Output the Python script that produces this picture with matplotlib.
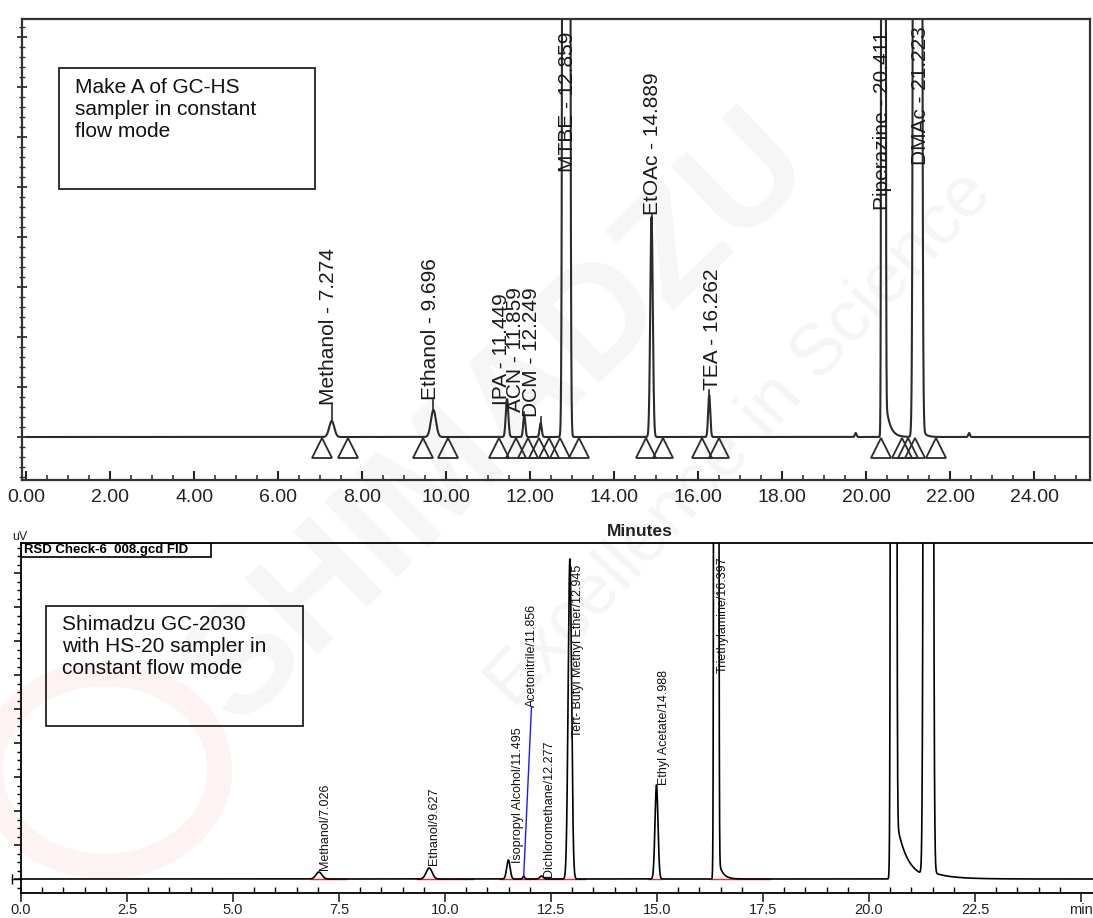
import numpy as np
import matplotlib
matplotlib.use("Agg")
import matplotlib.pyplot as plt
from matplotlib.ticker import MultipleLocator, FixedLocator
from matplotlib.patches import Rectangle, Circle

plt.rcParams['font.family'] = ['Liberation Sans', 'DejaVu Sans']

# ---------------- data: top chromatogram (Make A GC-HS) ----------------
top_names = ["Methanol", "Ethanol", "IPA", "ACN", "DCM", "MTBE", "EtOAc", "TEA", "Piperazine", "DMAc"]
top_rt = [7.274, 9.696, 11.449, 11.859, 12.249, 12.859, 14.889, 16.262, 20.411, 21.223]
top_height = [16, 27, 38, 22, 14, 30000, 220, 42, 30000, 30000]
top_sigma = [0.06, 0.06, 0.03, 0.025, 0.025, 0.035, 0.03, 0.025, 0.02, 0.04]
top_tail_amp = [0, 0, 0, 0, 0, 0, 0, 0, 60, 30]
top_tail_tau = [0.1, 0.1, 0.1, 0.1, 0.1, 0.1, 0.1, 0.1, 0.1, 0.08]
top_label_x = [7.19, 9.62, 11.31, 11.64, 12.02, 12.88, 14.90, 16.33, 20.38, 21.29]
top_label_y = [32, 37, 32, 25, 20, 265, 222, 47, 227, 272]
top_blip_rt = [19.75, 22.45]
top_blip_h = [4, 4]
top_tri_t = [7.05, 7.65, 9.45, 10.05, 11.25, 11.65, 11.95, 12.2, 12.45, 12.7,
             13.15, 14.75, 15.15, 16.1, 16.5, 20.35, 20.85, 21.0, 21.15, 21.65]
top_ticks = [0, 2, 4, 6, 8, 10, 12, 14, 16, 18, 20, 22, 24, 26]

# ---------------- data: bottom chromatogram (Shimadzu GC-2030) ----------------
bot_names = ["Methanol", "Ethanol", "Isopropyl Alcohol", "Acetonitrile", "Dichloromethane",
             "Tert- Butyl Methyl Ether", "Ethyl Acetate", "Triethylamine"]
bot_rt = [7.026, 9.627, 11.495, 11.856, 12.277, 12.945, 14.988, 16.397]
bot_height = [7, 11, 19, 3, 3, 320, 94, 30000]
bot_sigma = [0.07, 0.07, 0.04, 0.02, 0.04, 0.04, 0.035, 0.022]
bot_tail_amp = [0, 0, 0, 0, 0, 0, 0, 30]
bot_tail_tau = [0.1, 0.1, 0.1, 0.1, 0.1, 0.1, 0.1, 0.1]
bot_label_x = [7.17, 9.74, 11.72, 12.05, 12.46, 13.13, 15.16, 16.56]
bot_label_y = [9, 14, 16, 172, 2, 142, 94, 206]
bot_extra_rt = [20.58, 21.40]
bot_extra_height = [30000, 30000]
bot_extra_sigma = [0.027, 0.043]
bot_extra_tail_amp = [76, 6]
bot_extra_tail_tau = [0.25, 0.5]
bot_red_start = [6.85, 9.33, 11.30, 14.80, 16.27]
bot_red_end = [7.67, 10.66, 13.30, 15.10, 17.67]
bot_ticks = [0, 2.5, 5, 7.5, 10, 12.5, 15, 17.5, 20, 22.5, 25]
bot_ticklabels = ["0.0", "2.5", "5.0", "7.5", "10.0", "12.5", "15.0", "17.5", "20.0", "22.5", "min"]


def trace(t, rts, hs, sig, tamp, ttau):
    y = np.zeros_like(t)
    for r, h, s, a, tau in zip(rts, hs, sig, tamp, ttau):
        y += h * np.exp(-0.5 * ((t - r) / s) ** 2)
        if a > 0:
            y += np.where(t > r, a * np.exp(-(t - r) / tau), 0.0)
    return y


W, H = 1093, 918
fig = plt.figure(figsize=(W / 100, H / 100), dpi=100)

# ---- faint watermark ----
fig.text(500 / W, 1 - 420 / H, "SHIMADZU", fontsize=110, fontweight='bold', color='#f6f6f6',
         rotation=44, ha='center', va='center', zorder=-5)
fig.text(740 / W, 1 - 440 / H, "Excellence in Science", fontsize=52, color='#f5f5f5',
         rotation=47, ha='center', va='center', zorder=-5)
logo = Circle((105 / W, 1 - 770 / H), 0.105, transform=fig.transFigure, fill=False,
              lw=18, ec='#fef3f3', zorder=-5)
fig.patches.append(logo)

px = lambda v: v * 72 / 100  # pixels -> points

# ================= top axes =================
ax1 = fig.add_axes([22 / W, 1 - 480 / H, 1068 / W, 461 / H])
ax1.patch.set_alpha(0)
t = np.linspace(0, 26.5, 26501)
y1 = trace(t, top_rt, top_height, top_sigma, top_tail_amp, top_tail_tau)
y1 += trace(t, top_blip_rt, top_blip_h, [0.02] * len(top_blip_rt), [0] * 2, [0.1] * 2)
ax1.plot(t, y1, color='#2b2b2b', lw=1.5)
ax1.set_xlim(-0.1, -0.1 + 1068 / 42)
ax1.set_ylim(-43, 418)
ax1.plot(top_tri_t, [-11] * len(top_tri_t), ls='none', marker='^', ms=15,
         mfc='none', mec='#2b2b2b', mew=1.3)
for nm, r, h, lx, ly in zip(top_names, top_rt, top_height, top_label_x, top_label_y):
    if ly > h:
        ax1.plot([r, r], [h, ly], color='#2b2b2b', lw=1.2)
    ax1.text(lx, ly, f"{nm} - {r:.3f}", rotation=90, ha='center', va='bottom',
             fontsize=15, color='#1a1a1a', clip_on=True)
for sp in ax1.spines.values():
    sp.set_linewidth(1.6)
    sp.set_color('#333333')
ax1.xaxis.set_major_locator(FixedLocator(top_ticks))
ax1.set_xticklabels([f"{v:.2f}" for v in top_ticks])
ax1.xaxis.set_minor_locator(MultipleLocator(0.5))
ax1.tick_params(axis='x', which='major', direction='in', length=px(9), width=1.5,
                labelsize=14, pad=px(9), colors='#222222')
ax1.tick_params(axis='x', which='minor', direction='in', length=px(5), width=1.2, colors='#333333')
ax1.yaxis.set_major_locator(MultipleLocator(50))
ax1.yaxis.set_minor_locator(MultipleLocator(10))
ax1.tick_params(axis='y', which='major', direction='inout', length=px(10), width=1.3,
                labelleft=False, colors='#333333')
ax1.tick_params(axis='y', which='minor', direction='inout', length=px(6), width=1.0, colors='#333333')
ax1.add_patch(Rectangle((59 / W, 1 - 189 / H), 256 / W, 121 / H, transform=fig.transFigure,
                        fill=False, lw=1.3, ec='#222222'))
fig.text(75 / W, 1 - 78 / H, "Make A of GC-HS\nsampler in constant\nflow mode", fontsize=15,
         ha='left', va='top', color='#111111', linespacing=1.2)
fig.text(640 / W, 1 - 531 / H, "Minutes", fontsize=12.5, fontweight='bold', ha='center',
         va='center', color='#222222')

# ================= bottom axes =================
ax2 = fig.add_axes([21 / W, 1 - 893 / H, 1072 / W, 350 / H])
ax2.patch.set_alpha(0)
y2 = trace(t, bot_rt, bot_height, bot_sigma, bot_tail_amp, bot_tail_tau)
y2 += trace(t, bot_extra_rt, bot_extra_height, bot_extra_sigma, bot_extra_tail_amp, bot_extra_tail_tau)
for s0, s1 in zip(bot_red_start, bot_red_end):
    ax2.plot([s0, s1], [0, 0], color='#e03030', lw=1.0, zorder=1)
ax2.plot(t, y2, color='black', lw=1.2, zorder=2)
ax2.set_xlim(0, 1072 / 42.4)
ax2.set_ylim(-14, 336)
ax2.plot([-0.22, 0], [0, 0], color='black', lw=1.0, clip_on=False)
ax2.plot([-0.22], [0], marker='|', ms=7, color='black', clip_on=False)
ax2.plot([bot_rt[3], bot_label_x[3] - 0.01], [bot_height[3], bot_label_y[3]], color='#1a1aff', lw=1.0)
for nm, r, lx, ly in zip(bot_names, bot_rt, bot_label_x, bot_label_y):
    ax2.text(lx, ly, f"{nm}/{r:.3f}", rotation=90, ha='center', va='bottom', fontsize=9,
             color='#111111', clip_on=True)
ax2.spines['right'].set_visible(False)
for sp in ['left', 'top', 'bottom']:
    ax2.spines[sp].set_linewidth(1.3)
ax2.xaxis.set_major_locator(FixedLocator(bot_ticks))
ax2.set_xticklabels(bot_ticklabels)
ax2.xaxis.set_minor_locator(MultipleLocator(0.5))
ax2.tick_params(axis='x', which='major', direction='out', length=px(9), width=1.2,
                labelsize=10.5, pad=px(1), colors='#222222')
ax2.tick_params(axis='x', which='minor', direction='in', length=px(6), width=1.0)
ax2.yaxis.set_major_locator(MultipleLocator(34))
ax2.yaxis.set_minor_locator(MultipleLocator(8.5))
ax2.tick_params(axis='y', which='major', direction='out', length=px(7), width=1.1, labelleft=False)
ax2.tick_params(axis='y', which='minor', direction='out', length=px(4), width=1.0)
ax2.add_patch(Rectangle((46 / W, 1 - 726 / H), 257 / W, 120 / H, transform=fig.transFigure,
                        fill=False, lw=1.3, ec='#222222'))
fig.text(62 / W, 1 - 615 / H, "Shimadzu GC-2030\nwith HS-20 sampler in\nconstant flow mode",
         fontsize=15, ha='left', va='top', color='#111111', linespacing=1.2)
ax2.add_patch(Rectangle((21 / W, 1 - 557 / H), 190 / W, 14 / H, transform=fig.transFigure,
                        fill=False, lw=1.2, ec='black'))
fig.text(24 / W, 1 - 550 / H, "RSD Check-6  008.gcd FID", fontsize=9.5, fontweight='bold',
         ha='left', va='center', color='black')
fig.text(12 / W, 1 - 537 / H, "uV", fontsize=9, ha='left', va='center', color='#222222')

fig.savefig("out.png", dpi=100)
